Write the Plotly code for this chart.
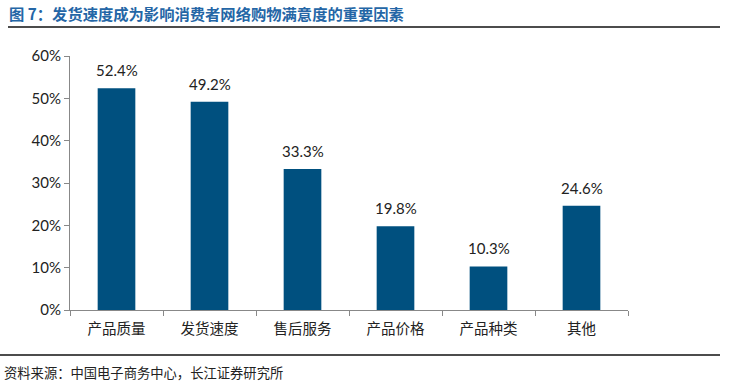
import plotly.graph_objects as go

categories = ["产品质量", "发货速度", "售后服务", "产品价格", "产品种类", "其他"]
values = [0.524, 0.492, 0.333, 0.198, 0.103, 0.246]
labels = ["52.4%", "49.2%", "33.3%", "19.8%", "10.3%", "24.6%"]
title_text = "<b>图 7：发货速度成为影响消费者网络购物满意度的重要因素</b>"
source_text = "资料来源：中国电子商务中心，长江证券研究所"

W, H = 737, 387
L, R, T, B = 70, 109, 56, 77
pw, ph = W - L - R, H - T - B

def px(x):
    return (x - L) / pw

def py(y):
    return (H - B - y) / ph

fig = go.Figure(go.Bar(
    x=categories, y=values,
    marker=dict(color="#00507f", line=dict(width=0)),
    width=0.405, cliponaxis=False,
))

value_labels = [
    dict(x=c, y=v, text=t, xref="x", yref="y", showarrow=False,
         yanchor="bottom", yshift=7,
         font=dict(size=15, color="#222", family="Lato, Arial"))
    for c, v, t in zip(categories, values, labels)
]

fig.update_layout(
    width=W, height=H,
    margin=dict(l=L, r=R, t=T, b=B),
    paper_bgcolor="white", plot_bgcolor="white",
    showlegend=False,
    font=dict(family="Noto Sans CJK SC", color="#222"),
    xaxis=dict(
        range=[-0.5, 5.5], showline=True, linecolor="#888", linewidth=1,
        ticks="outside", tickson="boundaries", ticklen=5, tickcolor="#888",
        tickfont=dict(size=14.5, family="Noto Sans CJK SC", color="#222"),
        showgrid=False, automargin=False, ticklabelstandoff=6,
    ),
    yaxis=dict(
        range=[0, 0.6], dtick=0.1, tickformat=".0%", showline=True,
        linecolor="#888", linewidth=1, ticks="outside", ticklen=5,
        tickcolor="#888", showgrid=False, zeroline=False, automargin=False,
        tickfont=dict(size=15, family="Lato, Arial", color="#222"),
    ),
    shapes=[
        dict(type="line", xref="paper", yref="paper", x0=px(8), x1=px(720),
             y0=py(27), y1=py(27), line=dict(color="#111", width=1.5)),
        dict(type="line", xref="paper", yref="paper", x0=px(0), x1=px(720),
             y0=py(355), y1=py(355), line=dict(color="#111", width=1.5)),
    ],
    annotations=value_labels + [
        dict(text=title_text, xref="paper", yref="paper",
             x=px(7), y=py(13), xanchor="left", yanchor="middle",
             showarrow=False,
             font=dict(size=15.3, color="#2466a6", family="Noto Sans CJK SC")),
        dict(text=source_text, xref="paper", yref="paper",
             x=px(2), y=py(372), xanchor="left", yanchor="middle",
             showarrow=False,
             font=dict(size=13.3, color="#222", family="Noto Sans CJK SC")),
    ],
)
fig.write_html("out.html", config={"displayModeBar": False},
               post_script="document.body.style.margin='0';")
